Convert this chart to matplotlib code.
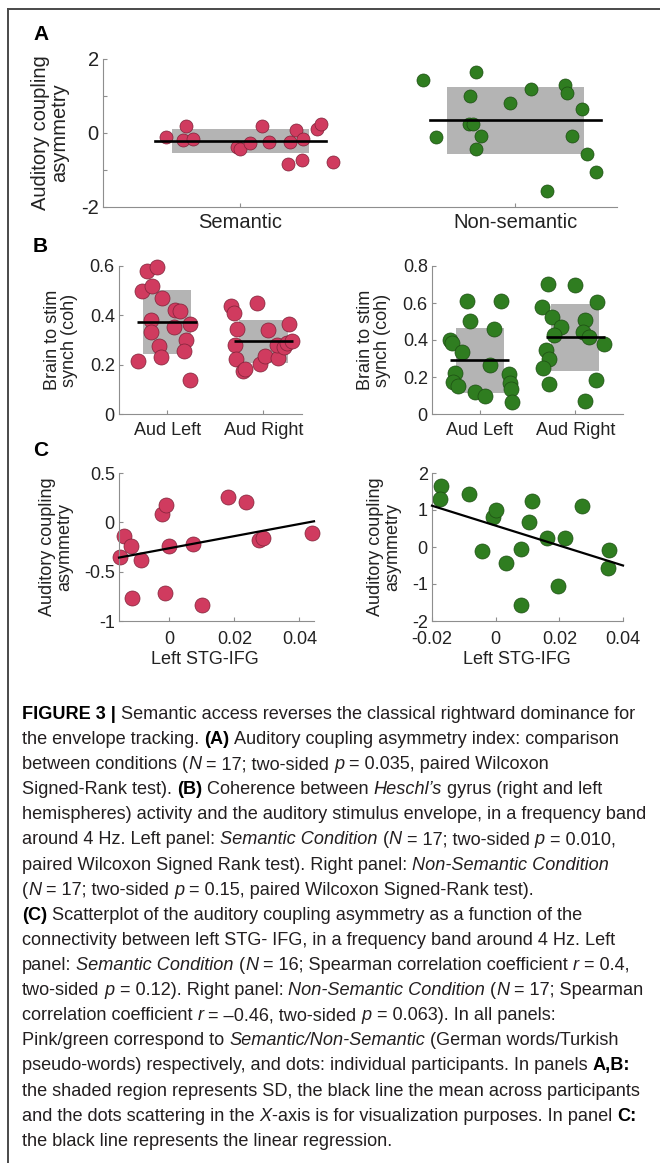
import numpy as np
import matplotlib
matplotlib.use("Agg")
import matplotlib.pyplot as plt
import matplotlib.transforms as mtransforms
from matplotlib.lines import Line2D
from matplotlib.patches import Rectangle

plt.rcParams['font.family'] = ['Liberation Sans', 'DejaVu Sans']

# ---------------- data ----------------
# A: auditory coupling asymmetry, one dot per participant
a_categories = ['Semantic', 'Non-semantic']
a_sem_jitter = [-0.270, -0.197, -0.208, -0.171, -0.012, 0.000, 0.035, 0.079, 0.103,
                0.182, 0.201, 0.229, 0.173, 0.223, 0.278, 0.292, 0.337]
a_sem_vals = [-0.11, 0.18, -0.18, -0.16, -0.39, -0.43, -0.27, 0.18, -0.23,
              -0.25, 0.09, -0.15, -0.83, -0.72, 0.11, 0.25, -0.78]
a_non_jitter = [-0.336, -0.290, -0.143, -0.166, -0.169, -0.154, -0.123, -0.143, -0.020,
                0.057, 0.180, 0.189, 0.205, 0.244, 0.261, 0.294, 0.115]
a_non_vals = [1.43, -0.10, 1.64, 1.00, 0.25, 0.23, -0.07, -0.42, 0.82,
              1.20, 1.29, 1.09, -0.07, 0.65, -0.56, -1.06, -1.57]

# B: brain to stimulus coherence, left / right auditory cortex
b_categories = ['Aud Left', 'Aud Right']
b_sem_left_jitter = [-0.300, -0.214, -0.103, -0.259, -0.155, -0.052, -0.172, -0.166, -0.086,
                     -0.069, 0.086, 0.138, 0.076, 0.234, 0.197, 0.172, 0.241]
b_sem_left = [0.215, 0.581, 0.595, 0.499, 0.519, 0.472, 0.381, 0.331, 0.277,
              0.232, 0.422, 0.418, 0.351, 0.365, 0.300, 0.257, 0.138]
b_sem_right_jitter = [-0.334, -0.310, -0.069, -0.276, -0.300, -0.290, -0.214, -0.190, -0.041,
                      0.017, 0.052, 0.148, 0.138, 0.217, 0.241, 0.300, 0.269]
b_sem_right = [0.438, 0.408, 0.449, 0.346, 0.281, 0.223, 0.174, 0.181, 0.203,
               0.235, 0.341, 0.228, 0.280, 0.270, 0.286, 0.295, 0.364]
b_non_left_jitter = [-0.307, -0.286, -0.185, -0.132, -0.098, -0.261, -0.279, -0.230, -0.045,
                     0.059, 0.105, 0.150, 0.223, 0.307, 0.321, 0.331, 0.341]
b_non_left = [0.400, 0.382, 0.333, 0.613, 0.505, 0.220, 0.175, 0.153, 0.121,
              0.099, 0.265, 0.461, 0.611, 0.214, 0.169, 0.135, 0.065]
b_non_right_jitter = [-0.289, -0.007, -0.352, -0.244, -0.146, -0.226, -0.303, -0.279, -0.338,
                      -0.279, 0.101, 0.216, 0.303, 0.226, 0.105, 0.080, 0.143]
b_non_right = [0.703, 0.695, 0.577, 0.523, 0.470, 0.427, 0.346, 0.295, 0.247,
               0.162, 0.072, 0.186, 0.380, 0.607, 0.508, 0.441, 0.414]

# C: asymmetry vs left STG-IFG connectivity
c_sem_x = [-0.01515, -0.0139, -0.0119, -0.0086, -0.0115, -0.0024, -0.0010, 0.0000,
           -0.0015, 0.0072, 0.0099, 0.0180, 0.0237, 0.0276, 0.0287, 0.0438]
c_sem_y = [-0.356, -0.142, -0.237, -0.386, -0.769, 0.085, 0.180, -0.244,
           -0.712, -0.217, -0.837, 0.254, 0.203, -0.183, -0.159, -0.108]
c_non_x = [-0.0171, -0.0174, -0.0083, -0.0007, 0.0000, -0.0042, 0.0034, 0.0081, 0.0079,
           0.0104, 0.0113, 0.0162, 0.0217, 0.0196, 0.0272, 0.0356, 0.0353]
c_non_y = [1.65, 1.29, 1.43, 0.80, 1.00, -0.10, -0.44, -0.05, -1.57,
           0.67, 1.23, 0.23, 0.25, -1.05, 1.10, -0.08, -0.56]

# ---------------- style ----------------
W, H = 660, 1163
PINK, PINK_EDGE = '#d03b5f', '#7d2238'
GREEN, GREEN_EDGE = '#2f7d20', '#1c4d12'
BOX = '#b4b4b4'
SPINE = '#8e8e8e'
TXT = '#222222'

fig = plt.figure(figsize=(W / 100, H / 100), dpi=100)
PX = mtransforms.Affine2D().scale(1 / W, -1 / H).translate(0, 1) + fig.transFigure


def px_axes(left, top, right, bottom):
    return fig.add_axes([left / W, 1 - bottom / H, (right - left) / W, (bottom - top) / H])


def style_axes(ax, size, xpad=5):
    for s in ['top', 'right']:
        ax.spines[s].set_visible(False)
    for s in ['left', 'bottom']:
        ax.spines[s].set_color(SPINE)
        ax.spines[s].set_linewidth(0.8)
    ax.tick_params(direction='in', length=3, width=0.8, color=SPINE,
                   labelsize=size, labelcolor=TXT, pad=3)
    ax.tick_params(axis='x', pad=xpad)
    ax.set_facecolor('none')


def set_ticks(ax, xt=None, yt=None, ylab_every=1):
    if xt is not None:
        ax.set_xticks(xt)
        ax.set_xticklabels([f'{v:g}' for v in xt])
    if yt is not None:
        ax.set_yticks(yt)
        ax.set_yticklabels([f'{v:g}' if i % ylab_every == 0 else '' for i, v in enumerate(yt)])


def group_panel(ax, groups, color, edge, size):
    # gray box = mean +- SD, black line = mean, dots = participants
    for cat, (jit, vals) in enumerate(groups, start=1):
        vals = np.asarray(vals)
        m, sd = vals.mean(), vals.std(ddof=1)
        ax.add_patch(Rectangle((cat - 0.25, m - sd), 0.5, 2 * sd, facecolor=BOX,
                               edgecolor='none', zorder=1))
        ax.scatter(cat + np.asarray(jit), vals, s=size, c=color, edgecolors=edge,
                   linewidths=0.5, zorder=2, clip_on=False)
        ax.plot([cat - 0.31, cat + 0.31], [m, m], color='black', lw=1.9, zorder=3,
                solid_capstyle='butt')


def regression_panel(ax, x, y, color, edge, size):
    x, y = np.asarray(x), np.asarray(y)
    ax.scatter(x, y, s=size, c=color, edgecolors=edge, linewidths=0.5, zorder=2, clip_on=False)
    k, b = np.polyfit(x, y, 1)
    xs = np.array(ax.get_xlim())
    ax.plot(xs, k * xs + b, color='black', lw=1.6, zorder=3, clip_on=False)


def ylabel_px(cx, cy, s, size):
    fig.text(cx, cy, s, transform=PX, rotation=90, ha='center', va='center',
             multialignment='center', fontsize=size, color=TXT, linespacing=1.0)


# ---------------- panel A ----------------
axA = px_axes(103, 59, 617, 207)
axA.set_xlim(0.5, 2.37)
axA.set_ylim(-2, 2)
for cat, (jit, vals, col, edge) in enumerate(
        [(a_sem_jitter, a_sem_vals, PINK, PINK_EDGE),
         (a_non_jitter, a_non_vals, GREEN, GREEN_EDGE)], start=1):
    vals = np.asarray(vals)
    m, sd = vals.mean(), vals.std(ddof=1)
    axA.add_patch(Rectangle((cat - 0.25, m - sd), 0.5, 2 * sd, facecolor=BOX,
                            edgecolor='none', zorder=1))
    axA.scatter(cat + np.asarray(jit), vals, s=88, c=col, edgecolors=edge,
                linewidths=0.5, zorder=2)
    axA.plot([cat - 0.31, cat + 0.31], [m, m], color='black', lw=1.9, zorder=3)
style_axes(axA, 14.5, xpad=4)
axA.set_xticks([1, 2])
axA.set_xticklabels(a_categories)
set_ticks(axA, yt=[-2, -1, 0, 1, 2], ylab_every=2)
ylabel_px(50, 133, 'Auditory coupling\nasymmetry', 14.5)

# ---------------- panel B ----------------
axB1 = px_axes(119, 266, 302, 414)
axB1.set_xlim(0.5, 2.4)
axB1.set_ylim(0, 0.6)
group_panel(axB1, [(b_sem_left_jitter, b_sem_left), (b_sem_right_jitter, b_sem_right)],
            PINK, PINK_EDGE, 117)
style_axes(axB1, 13, xpad=6)
axB1.set_xticks([1, 2])
axB1.set_xticklabels(b_categories)
set_ticks(axB1, yt=[0, 0.2, 0.4, 0.6])
ylabel_px(61, 340, 'Brain to stim\nsynch (coh)', 13)

axB2 = px_axes(432, 266, 623, 414)
axB2.set_xlim(0.5, 2.5)
axB2.set_ylim(0, 0.8)
group_panel(axB2, [(b_non_left_jitter, b_non_left), (b_non_right_jitter, b_non_right)],
            GREEN, GREEN_EDGE, 117)
style_axes(axB2, 13, xpad=6)
axB2.set_xticks([1, 2])
axB2.set_xticklabels(b_categories)
set_ticks(axB2, yt=[0, 0.2, 0.4, 0.6, 0.8])
ylabel_px(374, 340, 'Brain to stim\nsynch (coh)', 13)

# ---------------- panel C ----------------
axC1 = px_axes(119, 473, 314, 621)
axC1.set_xlim(-0.0155, 0.0445)
axC1.set_ylim(-1, 0.5)
regression_panel(axC1, c_sem_x, c_sem_y, PINK, PINK_EDGE, 117)
style_axes(axC1, 13, xpad=7)
set_ticks(axC1, xt=[0, 0.02, 0.04], yt=[-1, -0.5, 0, 0.5])
ylabel_px(56, 547, 'Auditory coupling\nasymmetry', 13)
fig.text(205, 660, 'Left STG-IFG', transform=PX, ha='center', va='center', fontsize=13, color=TXT)

axC2 = px_axes(432, 473, 623, 621)
axC2.set_xlim(-0.02, 0.04)
axC2.set_ylim(-2, 2)
regression_panel(axC2, c_non_x, c_non_y, GREEN, GREEN_EDGE, 117)
style_axes(axC2, 13, xpad=7)
set_ticks(axC2, xt=[-0.02, 0, 0.02, 0.04], yt=[-2, -1, 0, 1, 2])
ylabel_px(384, 547, 'Auditory coupling\nasymmetry', 13)
fig.text(517, 660, 'Left STG-IFG', transform=PX, ha='center', va='center', fontsize=13, color=TXT)

# panel letters
for letter, y in [('A', 35), ('B', 247), ('C', 450)]:
    fig.text(33, y, letter, transform=PX, ha='left', va='center', fontsize=15,
             fontweight='bold', color='black')

# frame lines of the figure box
fig.add_artist(Line2D([8, W], [9, 9], transform=PX, color='#4a4a4a', lw=1.4))
fig.add_artist(Line2D([8, 8], [9, H], transform=PX, color='#4a4a4a', lw=1.4))

# ---------------- caption ----------------
caption = [
    [('FIGURE 3 |', 'b'), (' Semantic access reverses the classical rightward dominance for', 'r')],
    [('the envelope tracking. ', 'r'), ('(A)', 'b'), (' Auditory coupling asymmetry index: comparison', 'r')],
    [('between conditions (', 'r'), ('N', 'i'), (' = 17; two-sided ', 'r'), ('p', 'i'),
     (' = 0.035, paired Wilcoxon', 'r')],
    [('Signed-Rank test). ', 'r'), ('(B)', 'b'), (' Coherence between ', 'r'), ('Heschl\u2019s', 'i'),
     (' gyrus (right and left', 'r')],
    [('hemispheres) activity and the auditory stimulus envelope, in a frequency band', 'r')],
    [('around 4 Hz. Left panel: ', 'r'), ('Semantic Condition', 'i'), (' (', 'r'), ('N', 'i'),
     (' = 17; two-sided ', 'r'), ('p', 'i'), (' = 0.010,', 'r')],
    [('paired Wilcoxon Signed Rank test). Right panel: ', 'r'), ('Non-Semantic Condition', 'i')],
    [('(', 'r'), ('N', 'i'), (' = 17; two-sided ', 'r'), ('p', 'i'),
     (' = 0.15, paired Wilcoxon Signed-Rank test).', 'r')],
    [('(C)', 'b'), (' Scatterplot of the auditory coupling asymmetry as a function of the', 'r')],
    [('connectivity between left STG- IFG, in a frequency band around 4 Hz. Left', 'r')],
    [('panel: ', 'r'), ('Semantic Condition', 'i'), (' (', 'r'), ('N', 'i'),
     (' = 16; Spearman correlation coefficient ', 'r'), ('r', 'i'), (' = 0.4,', 'r')],
    [('two-sided ', 'r'), ('p', 'i'), (' = 0.12). Right panel: ', 'r'), ('Non-Semantic Condition', 'i'),
     (' (', 'r'), ('N', 'i'), (' = 17; Spearman', 'r')],
    [('correlation coefficient ', 'r'), ('r', 'i'), (' = \u20130.46, two-sided ', 'r'), ('p', 'i'),
     (' = 0.063). In all panels:', 'r')],
    [('Pink/green correspond to ', 'r'), ('Semantic/Non-Semantic', 'i'), (' (German words/Turkish', 'r')],
    [('pseudo-words) respectively, and dots: individual participants. In panels ', 'r'),
     ('A,B:', 'b')],
    [('the shaded region represents SD, the black line the mean across participants', 'r')],
    [('and the dots scattering in the ', 'r'), ('X', 'i'),
     ('-axis is for visualization purposes. In panel ', 'r'), ('C:', 'b')],
    [('the black line represents the linear regression.', 'r')],
]

renderer = fig.canvas.get_renderer()


def run_kw(st, size):
    return dict(fontsize=size, color='#231f20' if st != 'b' else 'black',
                fontweight='bold' if st == 'b' else 'normal',
                fontstyle='italic' if st == 'i' else 'normal')


def text_width(s, kw):
    t = fig.text(0, 0, s, **kw)
    w = t.get_window_extent(renderer).width
    t.remove()
    return w


def rich_line(x, y, runs, size, draw=True):
    # draws runs of regular / bold / italic text one after another on a line
    for txt, st in runs:
        kw = run_kw(st, size)
        sp = text_width('a a', kw) - text_width('aa', kw)
        core = txt.strip(' ')
        x += (len(txt) - len(txt.lstrip(' '))) * sp
        if core:
            if draw:
                fig.text(x, y, core, transform=PX, ha='left', va='baseline', **kw)
            x += text_width(core, kw)
        x += (len(txt) - len(txt.rstrip(' '))) * sp
    return x


x0 = 22
base = 12.0
cap_size = base * 617 / (rich_line(0, 0, caption[0], base, draw=False))
for i, runs in enumerate(caption):
    rich_line(x0, 719 + 25.1 * i, runs, cap_size)

fig.savefig('out.png', dpi=100, facecolor='white')
